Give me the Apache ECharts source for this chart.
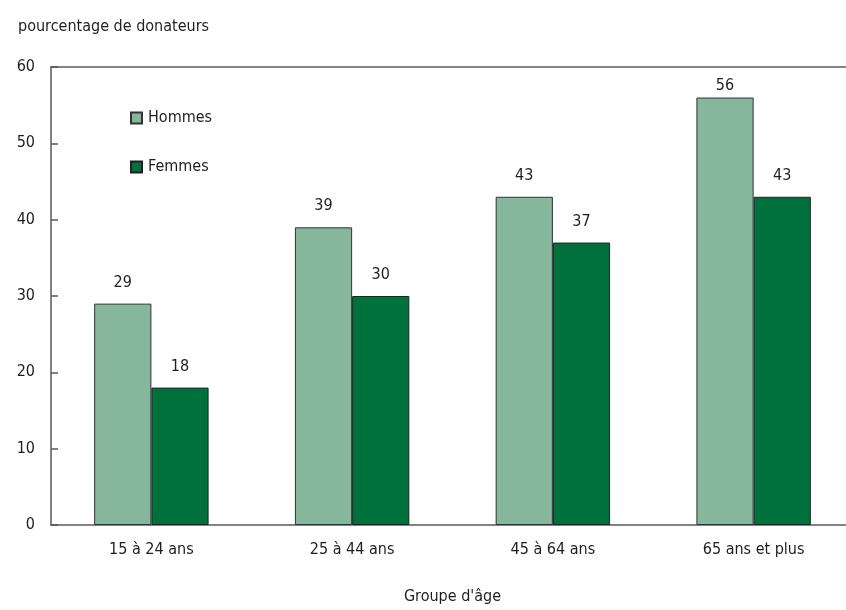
<!DOCTYPE html>
<html>
<head>
<meta charset="utf-8">
<script src="https://cdn.jsdelivr.net/npm/echarts@6/dist/echarts.min.js"></script>
<style>
  html, body { margin: 0; padding: 0; background: #fff; overflow: hidden; }
  #chart { width: 846px; height: 610px; }
</style>
</head>
<body>
<div id="chart"></div>
<script>
// Donateurs par groupe d'âge et sexe (%)
const categories = ['15 à 24 ans', '25 à 44 ans', '45 à 64 ans', '65 ans et plus'];
const hommes = [29, 39, 43, 56];
const femmes = [18, 30, 37, 43];
const yTicks = [0, 10, 20, 30, 40, 50, 60];

const FONT = '"DejaVu Sans Condensed", "DejaVu Sans", sans-serif';
const TEXT = '#1e1e1e';
const SIZE = 16;
const FRAME = { color: '#5a5a5a', width: 1.5 };

const txt = (size) => ({ fontFamily: FONT, fontSize: size, color: TEXT });

const chart = echarts.init(document.getElementById('chart'), null, { renderer: 'canvas' });

const labelStyle = Object.assign({ show: true, position: 'top', distance: 13 }, txt(SIZE));

// the tallest bar sits near the top frame, so its label hugs it
function withLabels(values) {
  return values.map(v => v === Math.max(...hommes)
    ? { value: v, label: { distance: 4 } }
    : v);
}

chart.setOption({
  animation: false,
  title: {
    text: 'pourcentage de donateurs',
    left: 13,
    top: 14,
    textStyle: Object.assign(txt(SIZE), { fontWeight: 'normal' })
  },
  legend: {
    orient: 'vertical',
    left: 125,
    top: 105,
    itemWidth: 11,
    itemHeight: 11,
    itemGap: 33,
    icon: 'rect',
    textStyle: Object.assign(txt(SIZE), { lineHeight: 16, padding: [0, 0, 0, 1] }),
    data: ['Hommes', 'Femmes']
  },
  grid: {
    left: 51,
    width: 803,
    top: 67,
    bottom: 85,
    outerBoundsMode: 'none',
    show: false
  },
  xAxis: [
    {
      type: 'category',
      data: categories,
      position: 'bottom',
      name: "Groupe d'âge",
      nameLocation: 'middle',
      nameGap: 64,
      nameTextStyle: txt(SIZE),
      axisLine: { show: true, lineStyle: FRAME },
      axisTick: { show: false },
      axisLabel: Object.assign(txt(SIZE), { margin: 17 }),
      splitLine: { show: false }
    },
    {
      // top rule of the frame
      type: 'category',
      data: categories,
      position: 'top',
      axisLine: { show: true, lineStyle: FRAME },
      axisTick: { show: false },
      axisLabel: { show: false },
      splitLine: { show: false }
    }
  ],
  yAxis: {
    type: 'value',
    min: yTicks[0],
    max: yTicks[yTicks.length - 1],
    interval: yTicks[1] - yTicks[0],
    axisLine: { show: true, lineStyle: FRAME },
    axisTick: { show: true, inside: true, length: 7, lineStyle: FRAME },
    axisLabel: Object.assign(txt(SIZE), { margin: 16 }),
    splitLine: { show: false }
  },
  series: [
    {
      name: 'Hommes',
      type: 'bar',
      data: withLabels(hommes),
      barGap: '0%',
      barCategoryGap: '43%',
      itemStyle: { color: '#86b69b', borderColor: '#333', borderWidth: 1 },
      label: labelStyle
    },
    {
      name: 'Femmes',
      type: 'bar',
      data: femmes,
      itemStyle: { color: '#00703c', borderColor: '#222', borderWidth: 1 },
      label: labelStyle
    }
  ]
});
</script>
</body>
</html>
